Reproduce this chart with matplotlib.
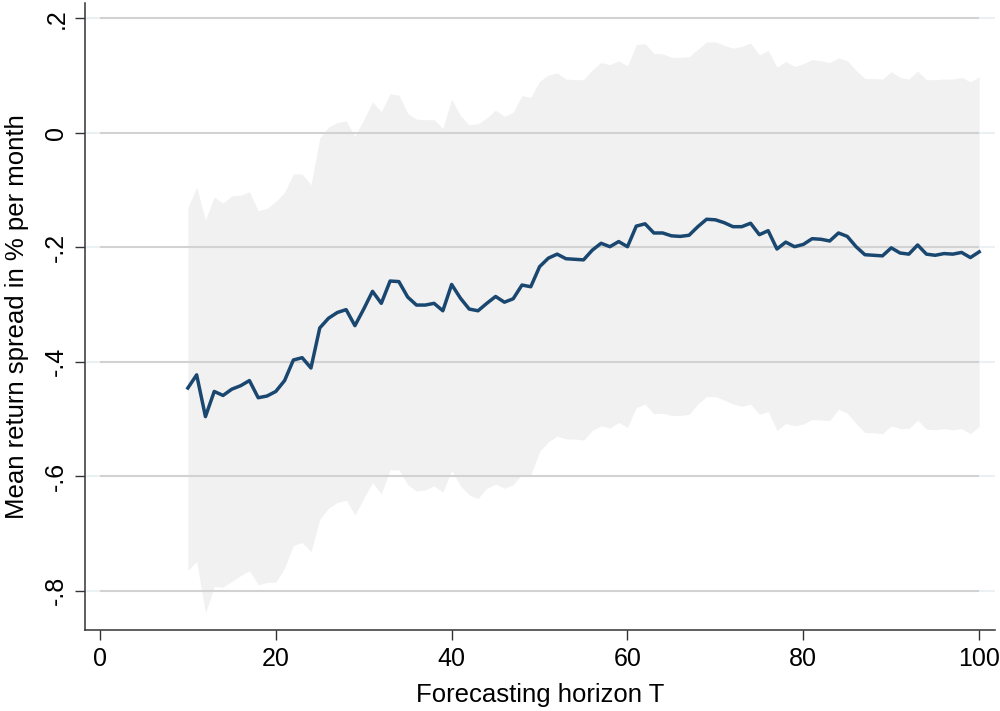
import numpy as np
import matplotlib.pyplot as plt

plt.rcParams['font.family'] = ['Liberation Sans', 'DejaVu Sans']

# Forecasting horizon and estimated values
horizon = list(range(10, 101))

mean_spread = [
    -0.446, -0.423, -0.496, -0.452, -0.459, -0.448, -0.442, -0.433, -0.463, -0.460,
    -0.452, -0.433, -0.397, -0.393, -0.411, -0.341, -0.324, -0.314, -0.309, -0.337,
    -0.308, -0.277, -0.298, -0.259, -0.260, -0.287, -0.301, -0.301, -0.298, -0.311,
    -0.265, -0.289, -0.308, -0.311, -0.298, -0.286, -0.296, -0.290, -0.266, -0.269,
    -0.234, -0.219, -0.212, -0.220, -0.221, -0.222, -0.205, -0.193, -0.199, -0.190,
    -0.199, -0.163, -0.159, -0.175, -0.175, -0.180, -0.181, -0.179, -0.164, -0.151,
    -0.152, -0.157, -0.164, -0.164, -0.158, -0.178, -0.171, -0.203, -0.191, -0.199,
    -0.195, -0.185, -0.186, -0.189, -0.175, -0.181, -0.199, -0.213, -0.214, -0.215,
    -0.201, -0.210, -0.212, -0.196, -0.212, -0.214, -0.211, -0.212, -0.209, -0.218,
    -0.208,
]

upper_band = [
    -0.131, -0.095, -0.152, -0.112, -0.123, -0.110, -0.109, -0.103, -0.136, -0.132,
    -0.120, -0.104, -0.072, -0.072, -0.091, -0.009, 0.010, 0.018, 0.021, -0.006,
    0.023, 0.054, 0.037, 0.068, 0.066, 0.034, 0.024, 0.023, 0.023, 0.008,
    0.059, 0.030, 0.014, 0.016, 0.026, 0.040, 0.029, 0.036, 0.065, 0.062,
    0.090, 0.101, 0.105, 0.094, 0.093, 0.093, 0.110, 0.123, 0.119, 0.126,
    0.117, 0.154, 0.156, 0.139, 0.138, 0.132, 0.132, 0.133, 0.146, 0.159,
    0.159, 0.153, 0.148, 0.151, 0.157, 0.136, 0.144, 0.115, 0.125, 0.116,
    0.121, 0.128, 0.126, 0.123, 0.131, 0.126, 0.109, 0.095, 0.095, 0.094,
    0.107, 0.097, 0.094, 0.108, 0.093, 0.093, 0.094, 0.094, 0.097, 0.089,
    0.098,
]

lower_band = [
    -0.765, -0.749, -0.839, -0.793, -0.794, -0.784, -0.774, -0.765, -0.790, -0.786,
    -0.785, -0.761, -0.721, -0.716, -0.732, -0.675, -0.656, -0.646, -0.642, -0.668,
    -0.639, -0.611, -0.631, -0.589, -0.589, -0.615, -0.626, -0.624, -0.617, -0.628,
    -0.590, -0.617, -0.633, -0.639, -0.621, -0.614, -0.621, -0.615, -0.597, -0.598,
    -0.557, -0.540, -0.530, -0.535, -0.535, -0.537, -0.520, -0.512, -0.516, -0.506,
    -0.515, -0.480, -0.474, -0.491, -0.490, -0.494, -0.494, -0.492, -0.474, -0.461,
    -0.461, -0.467, -0.474, -0.478, -0.474, -0.492, -0.487, -0.520, -0.508, -0.512,
    -0.509, -0.501, -0.502, -0.503, -0.483, -0.490, -0.508, -0.524, -0.524, -0.526,
    -0.512, -0.517, -0.517, -0.502, -0.518, -0.519, -0.517, -0.519, -0.517, -0.526,
    -0.513,
]

y_ticks = [0.2, 0, -0.2, -0.4, -0.6, -0.8]
y_tick_labels = ['.2', '0', '-.2', '-.4', '-.6', '-.8']
x_ticks = [0, 20, 40, 60, 80, 100]

fig = plt.figure(figsize=(10, 7.11), dpi=100)
ax = fig.add_axes([0.085, 0.1139, 0.91, 0.8819])

x_lo, x_hi = -1.7, 101.8
ax.set_xlim(x_lo, x_hi)
ax.set_ylim(-0.869, 0.227)

# confidence band
ax.fill_between(horizon, lower_band, upper_band, color='#f1f1f1', linewidth=0, zorder=1)

# grid lines: grey inside the data range, pale in the margins
for yv in y_ticks:
    ax.plot([0, 100], [yv, yv], color='#d2d2d2', lw=1.5, zorder=2, solid_capstyle='butt')
    ax.plot([x_lo, 0], [yv, yv], color='#eaf1f3', lw=1.5, zorder=2, solid_capstyle='butt')
    ax.plot([100, x_hi], [yv, yv], color='#eaf1f3', lw=1.5, zorder=2, solid_capstyle='butt')

ax.plot(horizon, mean_spread, color='#1a476f', lw=2.5, zorder=3)

for side in ['top', 'right']:
    ax.spines[side].set_visible(False)
for side in ['left', 'bottom']:
    ax.spines[side].set_color('#333333')
    ax.spines[side].set_linewidth(1.1)

ax.set_yticks(y_ticks)
ax.set_yticklabels(y_tick_labels, rotation=90, va='center')
ax.set_xticks(x_ticks)
ax.tick_params(axis='both', direction='out', length=7, width=1, color='#333333',
               labelsize=18, pad=5)

ax.set_xlabel('Forecasting horizon T', fontsize=18.5, labelpad=9)
ax.set_ylabel('Mean return spread in % per month', fontsize=18.5, labelpad=11)

plt.savefig('out.png', dpi=100)
